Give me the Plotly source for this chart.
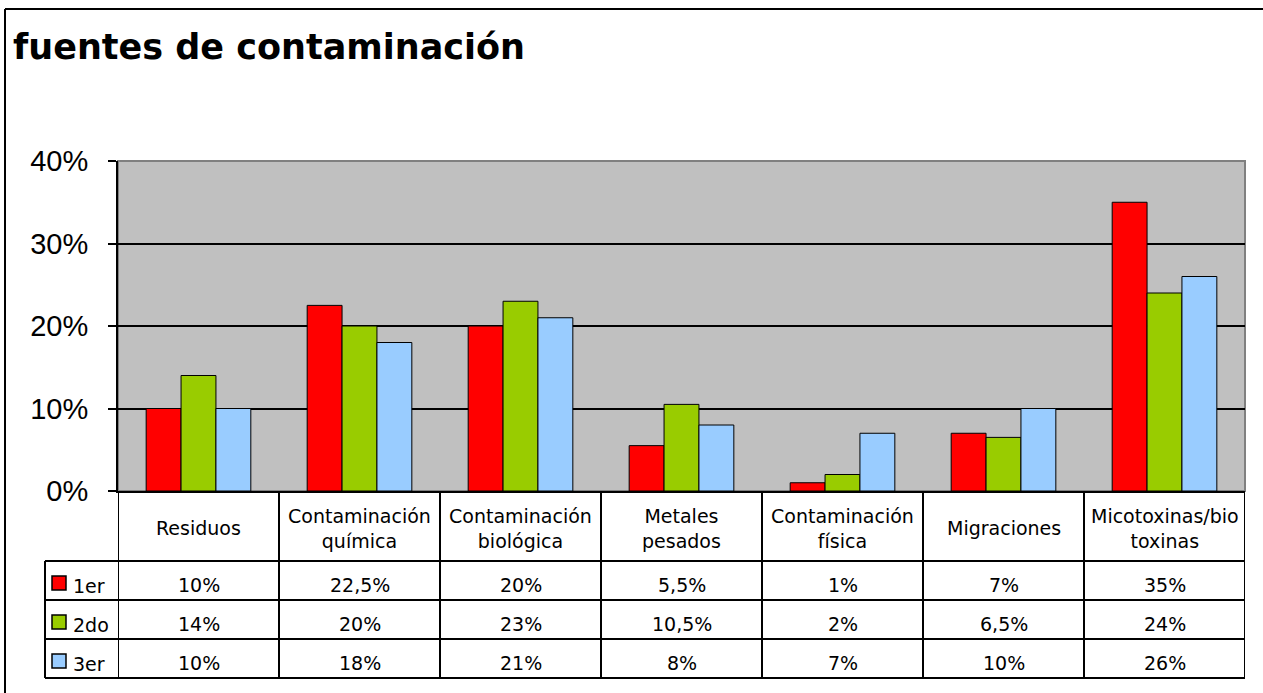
import plotly.graph_objects as go

# ---------------- data ----------------
categories = ["Residuos", "Contaminación<br>química", "Contaminación<br>biológica",
              "Metales<br>pesados", "Contaminación<br>física", "Migraciones",
              "Micotoxinas/bio<br>toxinas"]
series_names = ["1er", "2do", "3er"]
values_1er = [10, 22.5, 20, 5.5, 1, 7, 35]
values_2do = [14, 20, 23, 10.5, 2, 6.5, 24]
values_3er = [10, 18, 21, 8, 7, 10, 26]
series_colors = ["#FF0000", "#99CC00", "#99CCFF"]
y_tick_vals = [0, 10, 20, 30, 40]
y_tick_text = ["0%", "10%", "20%", "30%", "40%"]
title_text = "fuentes de contaminación"

series_values = [values_1er, values_2do, values_3er]

# ---------------- geometry helpers (page pixel coords) ----------------
W, H = 1263, 693
PL, PT, PR, PB = 118, 161, 1245, 491
PW, PH = PR - PL, PB - PT


def fx(px):
    return (px - PL) / PW


def fy(py):
    return (PB - py) / PH


def fmt(v):
    return ("%g" % v).replace(".", ",") + "%"


fig = go.Figure()
for name, vals, col in zip(series_names, series_values, series_colors):
    fig.add_trace(go.Bar(
        x=categories, y=vals, name=name,
        marker=dict(color=col, line=dict(color="black", width=1)),
    ))

shapes = []
annotations = []

# plot area gray border (top/right)
shapes.append(dict(type="rect", xref="paper", yref="paper", x0=0, y0=0, x1=1, y1=1,
                   line=dict(color="#808080", width=2), layer="below"))

# outer chart border (top and left edges; the rest lies outside the picture)
shapes.append(dict(type="line", xref="paper", yref="paper",
                   x0=fx(5), y0=fy(9), x1=fx(1300), y1=fy(9),
                   line=dict(color="black", width=2)))
shapes.append(dict(type="line", xref="paper", yref="paper",
                   x0=fx(5), y0=fy(9), x1=fx(5), y1=fy(720),
                   line=dict(color="black", width=2)))

# table rows (pixel y positions)
header_bottom = 561
row_bounds = [561, 600, 639, 678]
legend_left = 45

n = len(categories)
for i in range(n + 1):
    shapes.append(dict(type="line", xref="x", yref="paper",
                       x0=i - 0.5, x1=i - 0.5, y0=0, y1=fy(row_bounds[-1]),
                       line=dict(color="black", width=2)))
shapes.append(dict(type="line", xref="paper", yref="paper",
                   x0=fx(legend_left), x1=fx(legend_left),
                   y0=fy(row_bounds[0]), y1=fy(row_bounds[-1]),
                   line=dict(color="black", width=2)))
for yb in row_bounds:
    shapes.append(dict(type="line", xref="paper", yref="paper",
                       x0=fx(legend_left), x1=1, y0=fy(yb), y1=fy(yb),
                       line=dict(color="black", width=2)))

table_font = dict(family="DejaVu Sans", size=19, color="black")

# header labels
for c in categories:
    annotations.append(dict(x=c, xref="x", y=fy((PB + header_bottom) / 2 + 2), yref="paper",
                            text=c, showarrow=False, font=table_font,
                            xanchor="center", yanchor="middle"))

# rows
for r, (name, vals, col) in enumerate(zip(series_names, series_values, series_colors)):
    top, bot = row_bounds[r], row_bounds[r + 1]
    mid = (top + bot) / 2 + 4
    shapes.append(dict(type="rect", xref="paper", yref="paper",
                       x0=fx(52), x1=fx(66), y0=fy(top + 29), y1=fy(top + 15),
                       fillcolor=col, line=dict(color="black", width=1.5)))
    annotations.append(dict(x=fx(71), xref="paper", y=fy(mid + 1), yref="paper",
                            text=name, showarrow=False, font=table_font,
                            xanchor="left", yanchor="middle"))
    for c, v in zip(categories, vals):
        annotations.append(dict(x=c, xref="x", y=fy(mid), yref="paper",
                                text=fmt(v), showarrow=False, font=table_font,
                                xanchor="center", yanchor="middle"))

# title
annotations.append(dict(x=fx(11), xref="paper", y=fy(47), yref="paper",
                        text="<b>" + title_text + "</b>", showarrow=False,
                        font=dict(family="DejaVu Sans", size=35, color="black"),
                        xanchor="left", yanchor="middle"))

fig.update_layout(
    width=W, height=H,
    margin=dict(l=PL, r=W - PR, t=PT, b=H - PB, pad=0),
    paper_bgcolor="white",
    plot_bgcolor="#C0C0C0",
    showlegend=False,
    barmode="group",
    bargap=0.35,
    bargroupgap=0,
    shapes=shapes,
    annotations=annotations,
    xaxis=dict(range=[-0.5, n - 0.5], showticklabels=False, ticks="",
               showline=True, linecolor="black", linewidth=2, showgrid=False,
               zeroline=False, fixedrange=True),
    yaxis=dict(range=[0, 40], tickvals=y_tick_vals, ticktext=y_tick_text,
               ticks="outside", ticklen=8, tickwidth=2, tickcolor="black",
               showline=True, linecolor="black", linewidth=2,
               showgrid=True, gridcolor="black", gridwidth=1.5,
               zeroline=False, ticklabelstandoff=14,
               tickfont=dict(family="Liberation Sans", size=29, color="black"),
               fixedrange=True),
)

fig.write_html(
    "out.html",
    config={"displayModeBar": False},
    post_script="document.body.style.margin='0';"
                "document.documentElement.style.overflow='hidden';",
)
